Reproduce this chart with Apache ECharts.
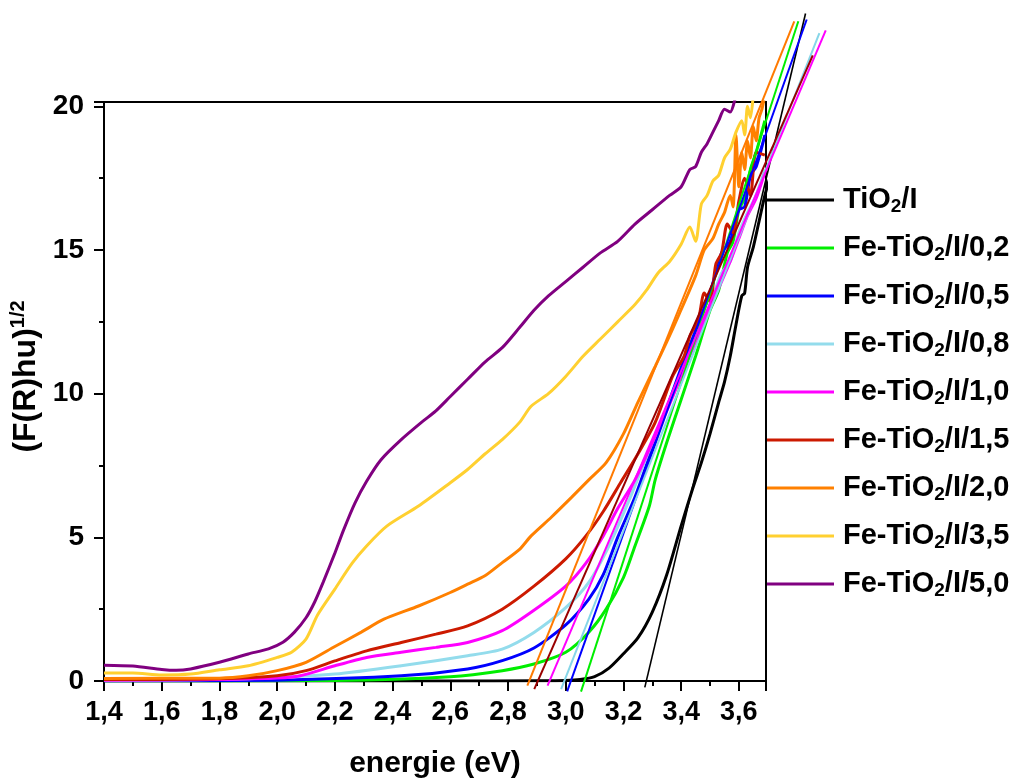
<!DOCTYPE html>
<html>
<head>
<meta charset="utf-8">
<script src="https://cdn.jsdelivr.net/npm/echarts@6.0.0/dist/echarts.min.js"></script>
<style>
  html, body { margin: 0; padding: 0; background: #fff; }
  #chart { width: 1019px; height: 783px; }
</style>
</head>
<body>
<div id="chart"></div>
<script>
// sample names (legend order)
const sampleNames = ['TiO2/I', 'Fe-TiO2/I/0,2', 'Fe-TiO2/I/0,5', 'Fe-TiO2/I/0,8', 'Fe-TiO2/I/1,0',
    'Fe-TiO2/I/1,5', 'Fe-TiO2/I/2,0', 'Fe-TiO2/I/3,5', 'Fe-TiO2/I/5,0'];
const sampleColors = ['#000000', '#00ee00', '#0000ff', '#93dcec', '#ff00ff',
    '#cc1a00', '#ff8000', '#ffd030', '#800080'];

// measured curves : energie (eV) / (F(R)hu)^1/2
const eTiO2 = [1.4, 2.0, 2.6, 2.9, 3.0, 3.05, 3.1, 3.15, 3.2, 3.25, 3.3, 3.35, 3.4, 3.44, 3.47, 3.5, 3.53, 3.55, 3.57, 3.59, 3.61, 3.62, 3.63, 3.65, 3.67, 3.69, 3.71];
const yTiO2 = [0.0, 0.0, 0.0, 0.01, 0.02, 0.05, 0.15, 0.45, 0.95, 1.5, 2.4, 3.7, 5.4, 6.7, 7.6, 8.6, 9.7, 10.4, 11.3, 12.4, 13.4, 13.5, 14.4, 15.1, 16.0, 16.9, 17.6];

const eFe02 = [1.4, 2.2, 2.6, 2.78, 2.89, 3.0, 3.08, 3.14, 3.2, 3.24, 3.29, 3.31, 3.35, 3.4, 3.45, 3.5, 3.53, 3.56, 3.58, 3.6, 3.62, 3.64, 3.66, 3.69];
const yFe02 = [0.0, 0.02, 0.15, 0.36, 0.59, 1.0, 1.7, 2.5, 3.6, 4.7, 6.1, 7.0, 8.3, 9.8, 11.3, 12.9, 13.6, 14.9, 15.3, 16.4, 16.8, 17.8, 18.4, 19.5];

const eFe05 = [1.4, 2.0, 2.43, 2.66, 2.78, 2.89, 3.0, 3.08, 3.13, 3.18, 3.24, 3.3, 3.35, 3.4, 3.45, 3.5, 3.54, 3.57, 3.6, 3.62, 3.64, 3.66, 3.69];
const yFe05 = [0.0, 0.03, 0.18, 0.42, 0.71, 1.15, 1.95, 2.85, 3.7, 5.0, 6.4, 8.1, 9.5, 10.9, 12.2, 13.5, 14.9, 15.3, 16.4, 16.5, 17.6, 17.9, 19.0];

const eFe08 = [1.4, 1.9, 2.2, 2.43, 2.66, 2.78, 2.89, 3.0, 3.08, 3.15, 3.22, 3.26, 3.3, 3.35, 3.4, 3.45, 3.5, 3.54, 3.57, 3.6, 3.63, 3.66, 3.69];
const yFe08 = [0.02, 0.08, 0.24, 0.53, 0.88, 1.11, 1.69, 2.55, 3.43, 4.7, 6.3, 7.3, 8.3, 9.5, 10.7, 11.9, 13.1, 14.2, 14.6, 15.6, 16.3, 16.9, 17.8];

const eFe10 = [1.4, 1.8, 2.0, 2.08, 2.2, 2.31, 2.43, 2.55, 2.66, 2.78, 2.88, 3.0, 3.07, 3.13, 3.18, 3.24, 3.3, 3.35, 3.4, 3.45, 3.5, 3.54, 3.57, 3.6, 3.63, 3.66, 3.69];
const yFe10 = [0.03, 0.05, 0.1, 0.18, 0.53, 0.82, 1.0, 1.17, 1.34, 1.75, 2.39, 3.3, 4.1, 5.05, 6.0, 7.0, 8.3, 9.4, 10.6, 11.8, 13.0, 13.9, 14.6, 15.4, 16.2, 16.8, 17.7];

const eFe15 = [1.4, 1.8, 2.0, 2.1, 2.2, 2.31, 2.43, 2.55, 2.66, 2.78, 2.89, 3.0, 3.07, 3.13, 3.19, 3.25, 3.31, 3.37, 3.41, 3.43, 3.46, 3.48, 3.5, 3.52, 3.54, 3.56, 3.58, 3.6, 3.62, 3.64, 3.66, 3.69];
const yFe15 = [0.05, 0.08, 0.18, 0.36, 0.7, 1.05, 1.34, 1.63, 1.92, 2.5, 3.3, 4.25, 5.05, 5.9, 6.9, 7.9, 9.0, 10.6, 11.3, 12.0, 12.6, 13.5, 13.2, 14.5, 14.9, 15.9, 15.6, 16.7, 17.5, 16.9, 18.4, 18.3];

const eFe20 = [1.4, 1.8, 1.9, 2.0, 2.1, 2.2, 2.29, 2.37, 2.49, 2.6, 2.66, 2.72, 2.78, 2.84, 2.88, 2.95, 3.02, 3.08, 3.14, 3.2, 3.25, 3.31, 3.35, 3.39, 3.45, 3.48, 3.51, 3.53, 3.55, 3.57, 3.58, 3.59, 3.6, 3.61, 3.62, 3.63, 3.64, 3.65, 3.66, 3.67, 3.68, 3.69];
const yFe20 = [0.09, 0.1, 0.18, 0.36, 0.65, 1.2, 1.69, 2.15, 2.61, 3.08, 3.37, 3.66, 4.12, 4.58, 5.05, 5.7, 6.39, 7.0, 7.6, 8.6, 9.7, 10.95, 11.8, 12.7, 14.1, 15.0, 15.4, 15.9, 16.3, 16.9, 16.5, 19.0, 17.2, 18.4, 17.8, 18.8, 18.2, 19.3, 18.8, 19.6, 19.9, 20.4];

const eFe35 = [1.4, 1.5, 1.6, 1.7, 1.8, 1.9, 2.0, 2.05, 2.1, 2.14, 2.2, 2.26, 2.31, 2.38, 2.49, 2.6, 2.66, 2.72, 2.78, 2.84, 2.88, 2.94, 3.0, 3.06, 3.12, 3.18, 3.24, 3.28, 3.32, 3.36, 3.4, 3.43, 3.45, 3.47, 3.49, 3.51, 3.53, 3.55, 3.57, 3.59, 3.61, 3.62, 3.63, 3.64, 3.65];
const yFe35 = [0.28, 0.28, 0.21, 0.24, 0.39, 0.53, 0.82, 1.0, 1.46, 2.3, 3.2, 4.1, 4.7, 5.39, 6.09, 6.9, 7.36, 7.9, 8.4, 9.0, 9.56, 10.0, 10.6, 11.3, 11.9, 12.5, 13.1, 13.6, 14.2, 14.6, 15.2, 15.8, 15.3, 16.6, 16.9, 17.4, 17.6, 18.2, 18.5, 19.1, 19.5, 19.0, 20.0, 19.6, 20.4];

const eFe50 = [1.4, 1.5, 1.6, 1.65, 1.7, 1.8, 1.9, 1.97, 2.02, 2.06, 2.1, 2.13, 2.16, 2.2, 2.23, 2.27, 2.31, 2.36, 2.43, 2.5, 2.55, 2.6, 2.66, 2.72, 2.78, 2.84, 2.89, 2.94, 3.0, 3.06, 3.12, 3.18, 3.24, 3.3, 3.36, 3.4, 3.43, 3.45, 3.47, 3.49, 3.51, 3.53, 3.55, 3.57, 3.59];
const yFe50 = [0.55, 0.52, 0.4, 0.37, 0.42, 0.65, 0.94, 1.12, 1.35, 1.7, 2.2, 2.75, 3.45, 4.45, 5.25, 6.2, 6.95, 7.7, 8.4, 9.0, 9.4, 9.9, 10.5, 11.1, 11.6, 12.3, 12.9, 13.4, 13.9, 14.4, 14.9, 15.3, 15.9, 16.4, 16.9, 17.2, 17.8, 17.9, 18.4, 18.7, 19.1, 19.5, 19.9, 19.8, 20.4];

const sampleE = [eTiO2, eFe02, eFe05, eFe08, eFe10, eFe15, eFe20, eFe35, eFe50];
const sampleY = [yTiO2, yFe02, yFe05, yFe08, yFe10, yFe15, yFe20, yFe35, yFe50];

// linear fits (gap extrapolation): [energie, value] start and end
const fitNames = ['TiO2/I', 'Fe-TiO2/I/0,2', 'Fe-TiO2/I/0,5', 'Fe-TiO2/I/0,8', 'Fe-TiO2/I/1,0', 'Fe-TiO2/I/1,5', 'Fe-TiO2/I/2,0'];
const fitColors = ['#000000', '#00ee00', '#0000ff', '#86d6e8', '#ff00ff', '#990000', '#ff7a00'];
const fitStart = [[3.274, -0.22], [3.053, -0.37], [3.005, -0.36], [2.984, -0.28], [2.937, -0.16], [2.891, -0.28], [2.867, -0.16]];
const fitEnd = [[3.831, 23.23], [3.806, 22.96], [3.835, 23.02], [3.879, 22.55], [3.901, 22.64], [3.856, 21.77], [3.792, 22.96]];

// axes
const xMin = 1.4, xMax = 3.694, xStep = 0.2;
const yMin = 0, yMax = 20.15, yStep = 5;
// wider hidden range where the fit lines run past the frame
const xFitMax = 4.0, yFitMin = -1, yFitMax = 23.5;

const W = 1019, H = 783;
const gLeft = 104, gRight = 253, gTop = 102, gBottom = 102;
const pxX = (W - gLeft - gRight) / (xMax - xMin);
const pxY = (H - gTop - gBottom) / (yMax - yMin);
const fitRight = W - gLeft - (xFitMax - xMin) * pxX;
const fitBottom = gBottom - (yMin - yFitMin) * pxY;
const fitTop = H - fitBottom - (yFitMax - yFitMin) * pxY;

const FONT = '"Liberation Sans", Arial, sans-serif';
const chart = echarts.init(document.getElementById('chart'), null, { renderer: 'canvas' });

const series = [];
sampleNames.forEach((name, i) => {
    series.push({
        name: name,
        type: 'line',
        xAxisIndex: 0, yAxisIndex: 0,
        data: sampleE[i].map((e, k) => [e, sampleY[i][k]]),
        showSymbol: false,
        smooth: 0.25,
        clip: true,
        color: sampleColors[i],
        lineStyle: { color: sampleColors[i], width: 3 },
        z: 2 + i
    });
});
fitNames.forEach((name, i) => {
    series.push({
        name: 'fit ' + name,
        type: 'line',
        xAxisIndex: 1, yAxisIndex: 1,
        data: [fitStart[i], fitEnd[i]],
        showSymbol: false,
        clip: false,
        lineStyle: { color: fitColors[i], width: i === 0 ? 1.6 : 2 },
        z: 20
    });
});

const hiddenAxis = { type: 'value', show: false, splitLine: { show: false } };

const option = {
    backgroundColor: '#ffffff',
    animation: false,
    grid: [{
        left: gLeft, right: gRight, top: gTop, bottom: gBottom,
        containLabel: false,
        outerBoundsMode: 'none',
        show: true, borderColor: '#000', borderWidth: 2, backgroundColor: 'transparent'
    }, {
        left: gLeft, right: fitRight, top: fitTop, bottom: fitBottom,
        containLabel: false,
        outerBoundsMode: 'none',
        show: false
    }],
    legend: {
        data: sampleNames,
        orient: 'vertical',
        left: 767,
        top: 183,
        padding: 0,
        itemWidth: 67,
        itemHeight: 3,
        itemGap: 15,
        icon: 'rect',
        formatter: name => name.replace('TiO2', 'TiO{sub|2}'),
        textStyle: {
            fontFamily: FONT, fontSize: 29, fontWeight: 'bold', color: '#000',
            lineHeight: 32, padding: [0, 0, 0, 4],
            rich: {
                sub: { fontFamily: FONT, fontSize: 19, fontWeight: 'bold', color: '#000',
                       lineHeight: 32, verticalAlign: 'bottom', padding: [14, 0, 0, 0] }
            }
        }
    },
    xAxis: [{
        type: 'value',
        gridIndex: 0,
        min: xMin, max: xMax, interval: xStep,
        name: 'energie (eV)',
        nameLocation: 'middle',
        nameGap: 68,
        nameTextStyle: { fontFamily: FONT, fontSize: 30, fontWeight: 'bold', color: '#000' },
        axisLine: { onZero: false, lineStyle: { color: '#000', width: 2 } },
        axisTick: { inside: false, length: 10, lineStyle: { color: '#000', width: 2 } },
        minorTick: { show: true, splitNumber: 2, length: 5, lineStyle: { color: '#000', width: 2 } },
        splitLine: { show: false },
        axisLabel: {
            fontFamily: FONT, fontSize: 27, fontWeight: 'bold', color: '#000', margin: 18,
            showMaxLabel: false,
            formatter: v => v.toFixed(1).replace('.', ',')
        }
    }, Object.assign({ gridIndex: 1, min: xMin, max: xFitMax }, hiddenAxis)],
    yAxis: [{
        type: 'value',
        gridIndex: 0,
        min: yMin, max: yMax, interval: yStep,
        name: '(F(R)hu){sup|1/2}',
        nameLocation: 'middle',
        nameGap: 52,
        nameRotate: 90,
        nameTextStyle: {
            fontFamily: FONT, fontSize: 32, fontWeight: 'bold', color: '#000',
            padding: [0, 0, 0, 30],
            rich: {
                sup: { fontFamily: FONT, fontSize: 20, fontWeight: 'bold', color: '#000',
                       verticalAlign: 'top', padding: [0, 0, 14, 0] }
            }
        },
        axisLine: { onZero: false, lineStyle: { color: '#000', width: 2 } },
        axisTick: { inside: false, length: 10, lineStyle: { color: '#000', width: 2 } },
        minorTick: { show: true, splitNumber: 2, length: 5, lineStyle: { color: '#000', width: 2 } },
        splitLine: { show: false },
        axisLabel: {
            fontFamily: FONT, fontSize: 28, fontWeight: 'bold', color: '#000', margin: 20,
            showMaxLabel: false,
            formatter: v => String(Math.round(v))
        }
    }, Object.assign({ gridIndex: 1, min: yFitMin, max: yFitMax }, hiddenAxis)],
    series: series
};
chart.setOption(option);
</script>
</body>
</html>
